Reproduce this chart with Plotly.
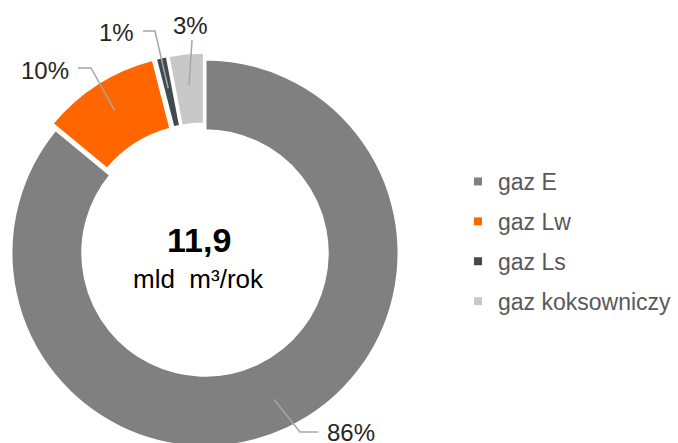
import math
import plotly.graph_objects as go

# Gas supply structure, share of annual volume
labels = ["gaz E", "gaz Lw", "gaz Ls", "gaz koksowniczy"]
shares = [86, 10, 1, 3]
total_value = "11,9"
unit_text = "mld&nbsp; m³/rok"

colors = ["#808080", "#ff6600", "#404a50", "#c8c8c8"]
pulls = [0, 0.035, 0.035, 0.035]

# Canvas and donut geometry (pixels)
W, H = 678, 460
CX, CY = 205, 253
R = 194
HOLE = 0.63
FONT = "Liberation Sans, Arial, sans-serif"

half = R * (1 + max(pulls))
domain_x = [(CX - half) / W, (CX + half) / W]
domain_y = [(H - (CY + half)) / H, (H - (CY - half)) / H]


def px(x):
    return x / W


def py(y):
    return (H - y) / H


fig = go.Figure()
fig.add_trace(go.Pie(
    labels=labels,
    values=shares,
    hole=HOLE,
    sort=False,
    direction="clockwise",
    rotation=0,
    pull=pulls,
    textinfo="none",
    hoverinfo="label+percent",
    showlegend=False,
    marker=dict(colors=colors, line=dict(color="white", width=3)),
    domain=dict(x=domain_x, y=domain_y),
))

# Legend entries, one group per category so the spacing can be set
for lab, col in zip(labels, colors):
    fig.add_trace(go.Scatter(
        x=[None], y=[None], mode="markers", name=lab, legendgroup=lab,
        marker=dict(symbol="square", size=8, color=col),
        hoverinfo="skip",
    ))

# Percentage labels with leader lines into each slice
label_pos = [(351, 432), (45, 70), (116, 32), (190, 25)]
leader_start = [(318, 432), (78, 68), (143, 31), (192, 40)]
leader_elbow = [(300, 432), (91, 68), (155, 31), None]

annotations = []
shapes = []
total = sum(shares)
cum = 0
for i, v in enumerate(shares):
    mid = math.radians((cum + v / 2) / total * 360)
    cum += v
    rr = 162 + pulls[i] * R
    ax = CX + rr * math.sin(mid)
    ay = CY - rr * math.cos(mid)
    pts = [leader_start[i]]
    if leader_elbow[i] is not None:
        pts.append(leader_elbow[i])
    pts.append((ax, ay))
    path = "M " + " L ".join(f"{px(x):.5f},{py(y):.5f}" for x, y in pts)
    shapes.append(dict(type="path", xref="paper", yref="paper", path=path,
                       line=dict(color="#a6a6a6", width=1.5)))
    lx, ly = label_pos[i]
    annotations.append(dict(x=px(lx), y=py(ly), xref="paper", yref="paper",
                            xanchor="center", yanchor="middle",
                            text=f"{v}%", showarrow=False,
                            font=dict(family=FONT, size=24, color="#262626")))

annotations.append(dict(x=px(199), y=py(240), xref="paper", yref="paper",
                        xanchor="center", yanchor="middle",
                        text=f"<b>{total_value}</b>", showarrow=False,
                        font=dict(family=FONT, size=34, color="#000000")))
annotations.append(dict(x=px(199), y=py(279), xref="paper", yref="paper",
                        xanchor="center", yanchor="middle",
                        text=unit_text, showarrow=False,
                        font=dict(family=FONT, size=26, color="#000000")))

fig.update_layout(
    width=W, height=H,
    margin=dict(l=0, r=0, t=0, b=0),
    paper_bgcolor="white", plot_bgcolor="white",
    xaxis=dict(visible=False), yaxis=dict(visible=False),
    annotations=annotations,
    shapes=shapes,
    legend=dict(
        x=(498 - 40) / W, y=py(160), xanchor="left", yanchor="top",
        tracegroupgap=7,
        font=dict(family=FONT, size=23, color="#595959"),
        bgcolor="rgba(0,0,0,0)",
        itemclick=False, itemdoubleclick=False,
    ),
)

fig.write_html(
    "out.html",
    config={"displayModeBar": False},
    post_script="document.documentElement.style.overflow='hidden';document.body.style.overflow='hidden';",
)
